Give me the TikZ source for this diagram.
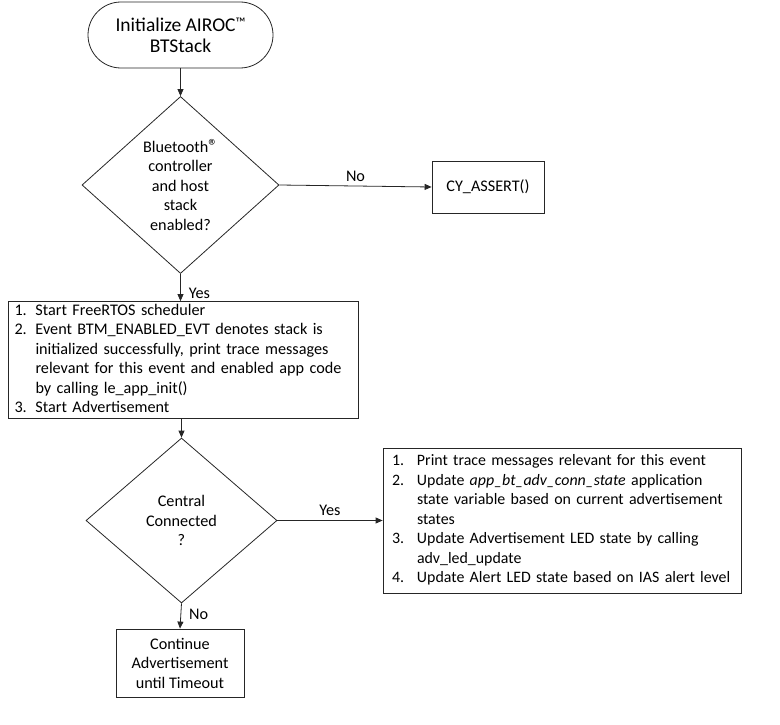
\documentclass[tikz,border=0pt]{standalone}
\usepackage{fontspec}
\setmainfont{Carlito}
\usetikzlibrary{shapes.geometric,arrows.meta}
\begin{document}
\begin{tikzpicture}[x=1pt,y=-1pt,
  every node/.style={font=\fontsize{16.2}{19.5}\selectfont},
  base/.style={draw=black!85,line width=0.8pt,inner sep=0pt},
  procbox/.style={base,rectangle},
  decision/.style={base,diamond,align=center},
  conn/.style={draw=black!85,line width=0.8pt,-{Triangle[length=7pt,width=6pt]}},
  lbl/.style={inner sep=0pt}]
\useasboundingbox (0,0) rectangle (780,725);
\node[procbox,rounded corners=33pt,minimum width=185pt,minimum height=66pt,align=center,
  font=\fontsize{19.5}{21}\selectfont] (start) at (180.5,35) {Initialize AIROC\raisebox{0.2em}{\fontsize{14}{14}\selectfont ™}\\BTStack};
\node[decision,minimum width=197pt,minimum height=177pt] (d1) at (180.5,185)
  {Bluetooth\raisebox{-0.05em}{\fontsize{19}{19}\selectfont ®}\\controller\\and host\\stack\\enabled?};
\node[procbox,minimum width=112pt,minimum height=52pt] (assert) at (488,187) {CY\_ASSERT()};
\node[procbox,minimum width=350pt,minimum height=116pt,text width=338pt,inner xsep=6pt,align=left] (box2) at (183.5,360)
  {\begin{tabular}{@{}p{21pt}@{}l@{}}
  1. & Start FreeRTOS scheduler\\
  2. & Event BTM\_ENABLED\_EVT denotes stack is\\
     & initialized successfully, print trace messages\\
     & relevant for this event and enabled app code\\
     & by calling le\_app\_init()\\
  3. & Start Advertisement
  \end{tabular}};
\node[decision,minimum width=191pt,minimum height=165pt] (d2) at (181.5,520.5)
  {Central\\Connected\\?};
\node[procbox,minimum width=358pt,minimum height=145pt,text width=340pt,inner xsep=9pt,align=left,
  font=\fontsize{15.9}{19.5}\selectfont] (box4) at (562,520.5)
  {\begin{tabular}{@{}p{25pt}@{}l@{}}
  1. & Print trace messages relevant for this event\\
  2. & Update \textit{app\_bt\_adv\_conn\_state} application\\
     & state variable based on current advertisement\\
     & states\\
  3. & Update Advertisement LED state by calling\\
     & adv\_led\_update\\
  4. & Update Alert LED state based on IAS alert level
  \end{tabular}};
\node[procbox,minimum width=128pt,minimum height=68pt,align=center] (box5) at (180,663)
  {Continue\\Advertisement\\until Timeout};
\draw[conn] (start.south) -- (d1.north);
\draw[conn] (d1.east) -- node[lbl,above=4pt] (no1) {No} (assert.west);
\draw[conn] (d1.south) -- node[lbl,right=8pt,pos=0.7] (yes1) {Yes} (d1.south|-box2.north);
\draw[conn] (d2.north|-box2.south) -- (d2.north);
\draw[conn] (d2.east) -- node[lbl,above=4pt] (yes2) {Yes} (box4.west);
\draw[conn] (d2.south) -- node[lbl,right=8pt,pos=0.45] (no2) {No} (box5.north);
\end{tikzpicture}
\end{document}
